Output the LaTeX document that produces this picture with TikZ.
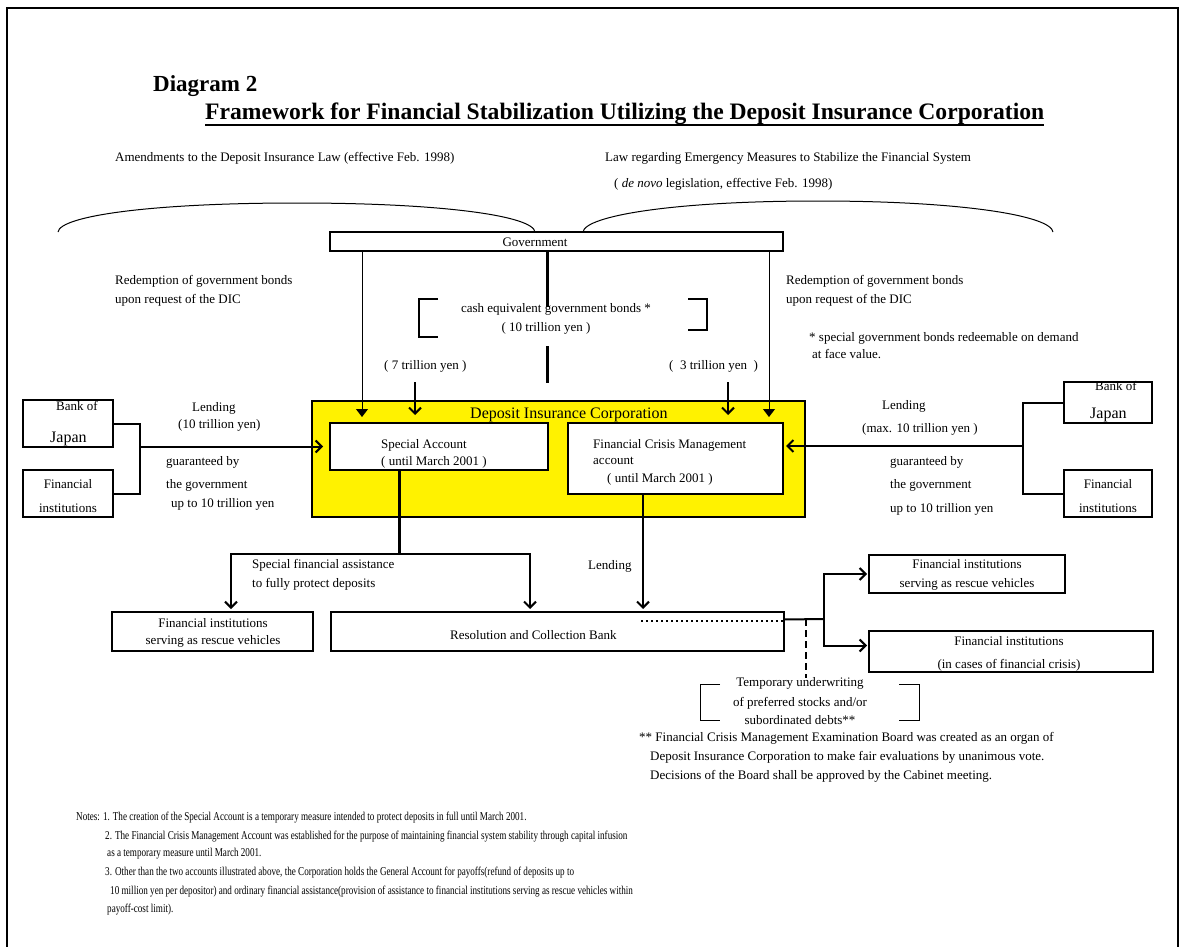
\documentclass[tikz,border=0pt]{standalone}
\usepackage{fontspec}
\setmainfont{Liberation Serif}
\newfontfamily\narrowfont{Liberation Serif}[FakeStretch=0.76]
\usetikzlibrary{arrows.meta,calc}
\newcommand\fsz[1]{\fontsize{#1}{#1}\selectfont}
\begin{document}
\begin{tikzpicture}[x=1pt,y=-1pt,
  box/.style={draw, line width=2pt, fill=white, inner sep=0pt, outer sep=0pt, anchor=north west},
  lbl/.style={inner sep=0pt, anchor=base west, font=\fsz{13}},
  lblc/.style={inner sep=0pt, anchor=base, font=\fsz{13}},
  note/.style={inner sep=0pt, anchor=base west, font=\narrowfont\fsz{12}},
  thinl/.style={line width=1pt},
  medl/.style={line width=2pt},
  thickl/.style={line width=3pt},
  openarrow/.style={-{Straight Barb[length=6pt,width=12pt]}},
  filledarrow/.style={-{Triangle[length=8pt,width=12pt]}},
]
\useasboundingbox (0,0) rectangle (1186,947);
% frame
\draw[line width=2pt] (7,947) -- (7,8) -- (1178,8) -- (1178,947);

% titles
\node[inner sep=0pt, anchor=base west, font=\bfseries\fsz{23}] (d2) at (153,92) {Diagram 2};
\node[inner sep=0pt, anchor=base west, font=\bfseries\fsz{23.6}] (ttl) at (205,120) {Framework for Financial Stabilization Utilizing the Deposit Insurance Corporation};
\draw[line width=1.5pt] ([yshift=-5pt]ttl.base west) -- ([yshift=-5pt]ttl.base east);

\node[lbl] (amend) at (115,161) {Amendments to the Deposit Insurance Law (effective Feb. 1998)};
\node[lbl] (law1) at (605,161) {Law regarding Emergency Measures to Stabilize the Financial System};
\node[lbl] (law2) at (614,187) {( \textit{de novo} legislation, effective Feb. 1998)};

% braces
\draw[thinl] (58,232) .. controls (60,216) and (150,203) .. (297,203) .. controls (444,203) and (533,216) .. (535,232);
\draw[thinl] (583,232) .. controls (585,216) and (672,201) .. (818,201) .. controls (964,201) and (1051,216) .. (1053,232);

% government
\node[box, minimum width=453, minimum height=19] (gov) at (330,232) {};
\node[lblc] (govt) at (535,246) {Government};

% redemption texts
\node[lbl] (redl1) at (115,284) {Redemption of government bonds};
\node[lbl] (redl2) at (115,303) {upon request of the DIC};
\node[lbl] (redr1) at (786,284) {Redemption of government bonds};
\node[lbl] (redr2) at (786,303) {upon request of the DIC};
\node[lbl] (spec1) at (809,341) {* special government bonds redeemable on demand};
\node[lbl] (spec2) at (812,358) {at face value.};

% DIC
\node[box, fill=yellow, minimum width=493, minimum height=116] (dic) at (312,401) {};
\node[lbl, font=\fsz{16}] (dict) at (470,418) {Deposit Insurance Corporation};
\node[box, minimum width=218, minimum height=47] (sa) at (330,423) {};
\node[lbl] (sat1) at (381,448) {Special Account};
\node[lbl] (sat2) at (381,465) {( until March 2001 )};
\node[box, minimum width=215, minimum height=71] (fcm) at (568,423) {};
\node[lbl] (fct1) at (593,448) {Financial Crisis Management};
\node[lbl] (fct2) at (593,464) {account};
\node[lbl] (fct3) at (607,482) {( until March 2001 )};

% government to DIC
\draw[thinl, filledarrow] ([xshift=32pt]gov.south west) -- ([xshift=32pt,yshift=6pt]sa.north west);
\draw[thinl, filledarrow] ([xshift=-14pt]gov.south east) -- ([xshift=-14pt,yshift=6pt]fcm.north east);
\coordinate (cgb1) at (547,307);
\coordinate (cgb2) at (547,346);
\coordinate (cgb3) at (547,383);
\draw[thickl] ([xshift=217pt]gov.south west) -- (cgb1);
\draw[thickl] (cgb2) -- (cgb3);
\draw[line width=1.2pt] (438,299) -- (419,299) -- (419,337) -- (438,337);
\draw[line width=1.2pt] (688,299) -- (707,299) -- (707,330) -- (688,330);
\node[lblc] (cash1) at (556,312) {cash equivalent government bonds *};
\node[lblc] (cash2) at (546,331) {( 10 trillion yen )};
\node[lbl] (t7) at (384,369) {( 7 trillion yen )};
\node[lbl] (t3) at (669,369) {(\ \ 3 trillion yen \ )};
\coordinate (a7) at (415,382);
\coordinate (a3) at (728,382);
\draw[medl, openarrow] (a7) -- ([xshift=85pt,yshift=8pt]sa.north west);
\draw[medl, openarrow] (a3) -- ([xshift=-55pt,yshift=8pt]fcm.north east);

% left lenders
\node[box, minimum width=90, minimum height=47] (bj1) at (23,400) {};
\node[lbl] (bj1a) at (56,410) {Bank of};
\node[lbl, font=\fsz{16}] (bj1b) at (50,442) {Japan};
\node[box, minimum width=90, minimum height=47] (fi1) at (23,470) {};
\node[lblc] (fi1a) at (68,488) {Financial};
\node[lblc] (fi1b) at (68,512) {institutions};
\draw[medl] (bj1.east) -- ++(27,0) |- (fi1.east);
\coordinate (jl) at (140,446.5);
\draw[medl, openarrow] (jl) -- ([xshift=-7pt]sa.west);
\node[lbl] (lend1) at (192,411) {Lending};
\node[lbl] (lend2) at (178,428) {(10 trillion yen)};
\node[lbl] (gl1) at (166,465) {guaranteed by};
\node[lbl] (gl2) at (166,488) {the government};
\node[lbl] (gl3) at (171,507) {up to 10 trillion yen};

% right lenders
\node[box, minimum width=88, minimum height=41] (bj2) at (1064,382) {};
\node[lbl] (bj2a) at (1095,390) {Bank of};
\node[lbl, font=\fsz{16}] (bj2b) at (1090,418) {Japan};
\node[box, minimum width=88, minimum height=47] (fi2) at (1064,470) {};
\node[lblc] (fi2a) at (1108,488) {Financial};
\node[lblc] (fi2b) at (1108,512) {institutions};
\draw[medl] (bj2.west) -- ++(-41,0) |- (fi2.west);
\coordinate (jr) at (1023,446);
\draw[medl, openarrow] (jr) -- ([xshift=3pt,yshift=-23pt]fcm.north east);
\node[lbl] (lendr1) at (882,409) {Lending};
\node[lbl] (lendr2) at (862,432) {(max. 10 trillion yen )};
\node[lbl] (gr1) at (890,465) {guaranteed by};
\node[lbl] (gr2) at (890,488) {the government};
\node[lbl] (gr3) at (890,512) {up to 10 trillion yen};

% lower boxes
\node[box, minimum width=201, minimum height=39] (frl) at (112,612) {};
\node[lblc] (frla) at (213,627) {Financial institutions};
\node[lblc] (frlb) at (213,644) {serving as rescue vehicles};
\node[box, minimum width=453, minimum height=39] (rcb) at (331,612) {};
\node[lbl] (rcbt) at (450,639) {Resolution and Collection Bank};
\node[box, minimum width=196, minimum height=38] (fr1) at (869,555) {};
\node[lblc] (fr1a) at (967,568) {Financial institutions};
\node[lblc] (fr1b) at (967,587) {serving as rescue vehicles};
\node[box, minimum width=284, minimum height=41] (fr2) at (869,631) {};
\node[lblc] (fr2a) at (1009,645) {Financial institutions};
\node[lblc] (fr2b) at (1009,668) {(in cases of financial crisis)};

% special account flows
\coordinate (j1) at (399,554);
\draw[thickl] ([xshift=69pt]sa.south west) -- (j1);
\draw[medl, openarrow] (j1) -| ([xshift=119pt,yshift=3pt]frl.north west);
\draw[medl, openarrow] (j1) -| ([xshift=199pt,yshift=3pt]rcb.north west);
\node[lbl] (sfa1) at (252,568) {Special financial assistance};
\node[lbl] (sfa2) at (252,587) {to fully protect deposits};

% FCM flows
\draw[medl, openarrow] ([xshift=75pt]fcm.south west) -- ([xshift=312pt,yshift=3pt]rcb.north west);
\node[lbl] (lendc) at (588,569) {Lending};
\draw[line width=1.5pt, dash pattern=on 2pt off 3pt] ([xshift=310pt,yshift=-9pt]rcb.north west) -- ([yshift=-9pt]rcb.north east);
\coordinate (j2) at (824,619);
\draw[medl] ([yshift=12pt]rcb.east) -- (j2);
\draw[medl, openarrow] (j2) |- ([xshift=-2pt]fr1.west);
\draw[medl, openarrow] (j2) |- ([xshift=-2pt,yshift=6pt]fr2.west);
\coordinate (dd1) at (806,619);
\coordinate (dd2) at (806,678);
\draw[line width=1.5pt, dash pattern=on 7pt off 4pt] (dd1) -- (dd2);

% temporary underwriting
\draw[thinl] (720,684) -- (700,684) -- (700,720) -- (720,720);
\draw[thinl] (899,684) -- (919,684) -- (919,720) -- (899,720);
\node[lblc] (tu1) at (800,686) {Temporary underwriting};
\node[lblc] (tu2) at (800,706) {of preferred stocks and/or};
\node[lblc] (tu3) at (800,724) {subordinated debts**};
\node[lbl] (fb1) at (639,741) {** Financial Crisis Management Examination Board was created as an organ of};
\node[lbl] (fb2) at (650,760) {Deposit Insurance Corporation to make fair evaluations by unanimous vote.};
\node[lbl] (fb3) at (650,779) {Decisions of the Board shall be approved by the Cabinet meeting.};

% notes
\node[note] (n1) at (76,820) {Notes: 1. The creation of the Special Account is a temporary measure intended to protect deposits in full until March 2001.};
\node[note] (n2) at (105,839) {2. The Financial Crisis Management Account was established for the purpose of maintaining financial system stability through capital infusion};
\node[note] (n3) at (107,856) {as a temporary measure until March 2001.};
\node[note] (n4) at (105,875) {3. Other than the two accounts illustrated above, the Corporation holds the General Account for payoffs(refund of deposits up to};
\node[note] (n5) at (110,894) {10 million yen per depositor) and ordinary financial assistance(provision of assistance to financial institutions serving as rescue vehicles within};
\node[note] (n6) at (107,912) {payoff-cost limit).};
\end{tikzpicture}
\end{document}
